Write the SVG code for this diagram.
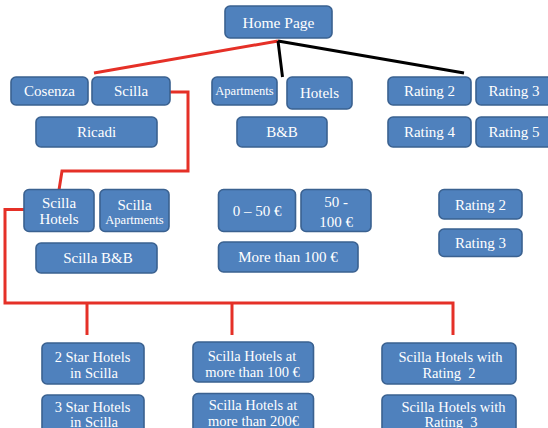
<svg xmlns="http://www.w3.org/2000/svg" width="548" height="428" viewBox="0 0 548 428">
  <style>
    .box { fill: #4F81BD; stroke: #3A6190; stroke-width: 1.6; }
    .lbl text { fill: #FFFFFF; font-size: 15px; text-anchor: middle; }
    .lbl .s { font-size: 12.5px; }
    .lbl .b { font-size: 14.5px; }
    .red { fill: none; stroke: #E53027; stroke-width: 3; stroke-linejoin: miter; }
    .blk { fill: none; stroke: #000000; stroke-width: 3; }
  </style>
  <rect width="548" height="428" fill="#FFFFFF"/>

  <!-- connectors -->
  <g id="connectors">
    <line class="red" x1="278" y1="41" x2="94" y2="73"/>
    <line class="blk" x1="278" y1="41" x2="282.5" y2="77"/>
    <line class="blk" x1="278" y1="41" x2="464" y2="73"/>
    <polyline class="red" points="170,92 188,92 188,171 62,171 59,190"/>
    <polyline class="red" points="24,209.5 5,209.5 5,303 453,303 453,335"/>
    <line class="red" x1="87" y1="303" x2="87" y2="335"/>
    <line class="red" x1="232" y1="303" x2="232" y2="335"/>
  </g>

  <g class="lbl" font-family="Liberation Serif, serif">
  <!-- level 0 -->
  <g id="home"><rect class="box" x="225" y="6" width="107" height="32" rx="5"/><text x="278.5" y="27.5" style="font-size:15.5px">Home Page</text></g>

  <!-- level 1 -->
  <g id="cosenza"><rect class="box" x="11" y="77" width="77" height="28" rx="5"/><text x="49.5" y="96">Cosenza</text></g>
  <g id="scilla"><rect class="box" x="92" y="77" width="78" height="28" rx="5"/><text x="131" y="96">Scilla</text></g>
  <g id="ricadi"><rect class="box" x="36" y="117" width="121" height="30" rx="5"/><text x="96.5" y="137">Ricadi</text></g>
  <g id="apartments"><rect class="box" x="212" y="77" width="65" height="28" rx="5"/><text class="s" x="244.5" y="95">Apartments</text></g>
  <g id="hotels"><rect class="box" x="287" y="77" width="65" height="32" rx="5"/><text x="319.5" y="98">Hotels</text></g>
  <g id="bnb"><rect class="box" x="237" y="117" width="90" height="30" rx="5"/><text x="282" y="137">B&amp;B</text></g>
  <g id="rating2"><rect class="box" x="388" y="77" width="83" height="28" rx="5"/><text x="429.5" y="96">Rating 2</text></g>
  <g id="rating3"><rect class="box" x="476" y="77" width="76" height="28" rx="5"/><text x="514" y="96">Rating 3</text></g>
  <g id="rating4"><rect class="box" x="388" y="117" width="83" height="30" rx="5"/><text x="429.5" y="137">Rating 4</text></g>
  <g id="rating5"><rect class="box" x="476" y="117" width="76" height="30" rx="5"/><text x="514" y="137">Rating 5</text></g>

  <!-- level 2 -->
  <g id="scilla-hotels"><rect class="box" x="24" y="189.5" width="70" height="42" rx="5"/><text x="59" y="207.5">Scilla</text><text x="59" y="223.5">Hotels</text></g>
  <g id="scilla-apartments"><rect class="box" x="100" y="189.5" width="69" height="42" rx="5"/><text x="134.5" y="210">Scilla</text><text class="s" x="134.5" y="223.5">Apartments</text></g>
  <g id="scilla-bnb"><rect class="box" x="36" y="243" width="121" height="30" rx="5"/><text x="98" y="263">Scilla B&amp;B</text></g>
  <g id="price-0-50"><rect class="box" x="218.5" y="189.5" width="77" height="42" rx="5"/><text x="257" y="216">0 – 50 €</text></g>
  <g id="price-50-100"><rect class="box" x="301" y="189.5" width="70" height="42" rx="5"/><text x="336" y="206.5">50 -</text><text x="336" y="226.5">100 €</text></g>
  <g id="price-100"><rect class="box" x="218.5" y="242" width="139.5" height="30" rx="5"/><text x="288" y="261.5">More than 100 €</text></g>
  <g id="rating2-b"><rect class="box" x="439" y="189.5" width="83" height="29.5" rx="5"/><text x="480.5" y="209.5">Rating 2</text></g>
  <g id="rating3-b"><rect class="box" x="439" y="229" width="83" height="27.5" rx="5"/><text x="480.5" y="248">Rating 3</text></g>

  <!-- level 3 -->
  <g id="star2"><rect class="box" x="42" y="343" width="102" height="41" rx="5"/><text class="b" x="92.5" y="362">2 Star Hotels</text><text class="b" x="94" y="378">in Scilla</text></g>
  <g id="star3"><rect class="box" x="42" y="395" width="102" height="42" rx="5"/><text class="b" x="92.5" y="411.5">3 Star Hotels</text><text class="b" x="94" y="426.5">in Scilla</text></g>
  <g id="hotels-100"><rect class="box" x="193" y="342" width="120.5" height="40" rx="5"/><text class="b" x="252" y="361">Scilla Hotels at</text><text class="b" x="252.5" y="376.5">more than 100 €</text></g>
  <g id="hotels-200"><rect class="box" x="193" y="393.5" width="120.5" height="42" rx="5"/><text class="b" x="253" y="410">Scilla Hotels at</text><text class="b" x="253.5" y="425.5">more than 200€</text></g>
  <g id="hotels-r2"><rect class="box" x="382" y="343" width="134" height="41" rx="5"/><text class="b" x="450.5" y="362">Scilla Hotels with</text><text class="b" x="449" y="378" xml:space="preserve">Rating  2</text></g>
  <g id="hotels-r3"><rect class="box" x="382" y="395" width="134" height="42" rx="5"/><text class="b" x="453.5" y="411.5">Scilla Hotels with</text><text class="b" x="451" y="426.5" xml:space="preserve">Rating  3</text></g>
  </g>
</svg>
